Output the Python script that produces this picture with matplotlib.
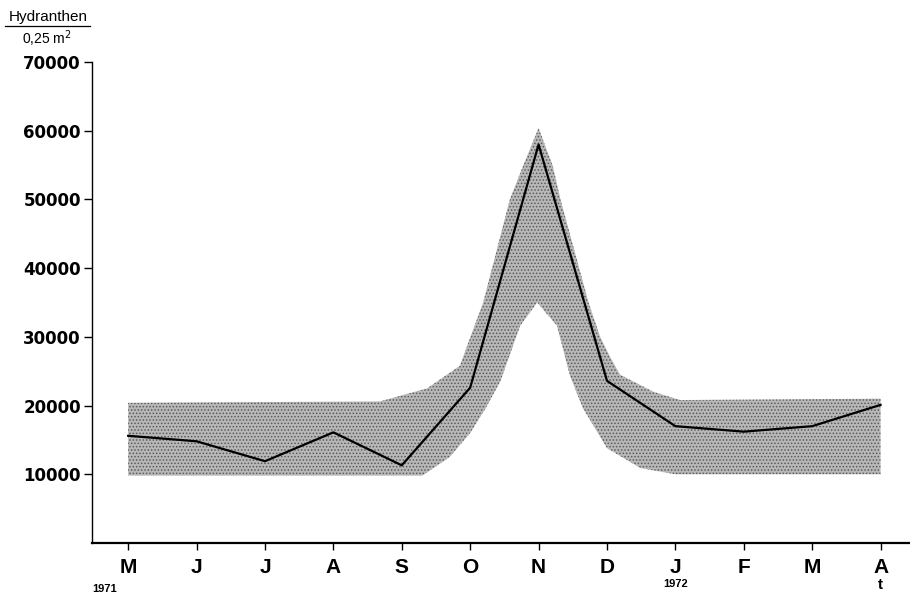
import matplotlib.pyplot as plt
from matplotlib.lines import Line2D

plt.rcParams['font.family'] = ['Liberation Sans', 'DejaVu Sans']
plt.rcParams['hatch.linewidth'] = 0.7

# months May 1971 .. April 1972
months = ['M', 'J', 'J', 'A', 'S', 'O', 'N', 'D', 'J', 'F', 'M', 'A']
hydranthen = [15600, 14800, 11900, 16100, 11300, 22600, 58000,
              23600, 17000, 16200, 17000, 20100]
y_ticks = [10000, 20000, 30000, 40000, 50000, 60000, 70000]

# range band (stippled area), x in month index
band_upper_x = [0, 3.68, 4.37, 4.85, 5.03, 5.19, 5.58, 5.77, 6.0,
                6.21, 6.32, 6.73, 6.9, 7.05, 7.19, 7.68, 8.07, 11]
band_upper_y = [20400, 20600, 22500, 25800, 30700, 35000, 50000, 54800, 60400,
                54800, 50000, 35000, 30000, 27000, 24500, 22000, 20800, 21000]
band_lower_x = [0, 4.3, 4.7, 5.0, 5.22, 5.44, 5.73, 5.98, 6.27, 6.46, 6.65, 7.0, 7.49, 8.0, 11]
band_lower_y = [9800, 9800, 12500, 16000, 19500, 23500, 31600, 35000,
                31600, 24300, 19600, 13800, 10900, 10000, 10000]

fig = plt.figure(figsize=(9.1, 5.94), dpi=100)
ax = fig.add_axes([0.101, 0.0859, 0.899, 0.8097])

# build closed band polygon: upper edge forward, lower edge backward
poly_x = band_upper_x + band_lower_x[::-1]
poly_y = band_upper_y + band_lower_y[::-1]
ax.fill(poly_x, poly_y, facecolor='#b8b8b8', edgecolor='#5a5a5a',
        hatch='.....', linewidth=0, zorder=1)

x = list(range(len(months)))
ax.plot(x, hydranthen, color='black', linewidth=1.6, zorder=3)

ax.set_xlim(-0.53, 11.43)
ax.set_ylim(0, 70000)

ax.spines['top'].set_visible(False)
ax.spines['right'].set_visible(False)
ax.spines['left'].set_linewidth(1.0)
ax.spines['bottom'].set_linewidth(1.6)

ax.set_yticks(y_ticks)
ax.set_yticklabels([str(v) for v in y_ticks], fontsize=12, fontweight='bold',
                   family='DejaVu Sans')
ax.set_xticks(x)
ax.set_xticklabels(months, fontsize=15, fontweight='bold')
ax.tick_params(axis='y', direction='out', length=6, width=1, pad=2)
ax.tick_params(axis='x', direction='out', length=5, width=1, pad=6)

# year labels and time axis symbol
ax.text(-0.53, -0.095, '1971', transform=ax.get_xaxis_transform(),
        fontsize=8, fontweight='bold', ha='left', va='center')
ax.text(8, -0.085, '1972', transform=ax.get_xaxis_transform(),
        fontsize=8, fontweight='bold', ha='center', va='center')
ax.text(11, -0.088, 't', transform=ax.get_xaxis_transform(),
        fontsize=11, fontweight='bold', ha='center', va='center')

# y unit as a fraction
fig.text(0.053, 0.971, 'Hydranthen', fontsize=11, ha='center', va='center')
fig.add_artist(Line2D([0.006, 0.099], [0.957, 0.957], color='black',
                      linewidth=0.9, transform=fig.transFigure))
fig.text(0.051, 0.935, '0,25 m$^2$', fontsize=10, ha='center', va='center')

fig.savefig('out.png', dpi=100)
